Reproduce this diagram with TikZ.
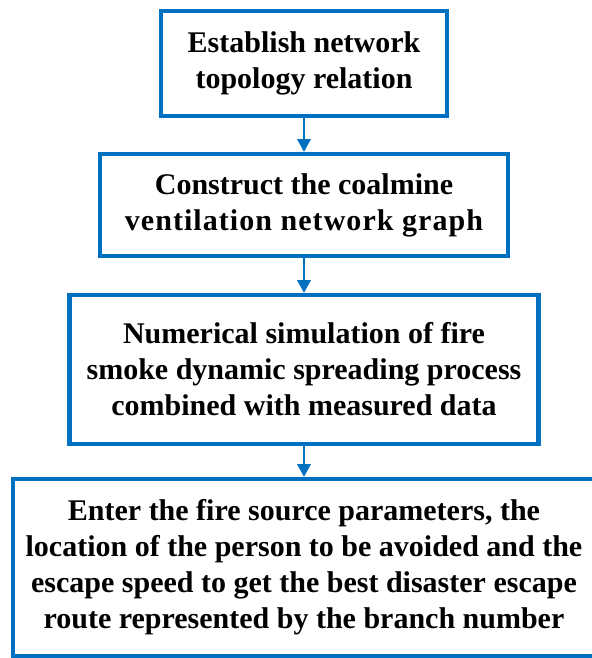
\documentclass[tikz,border=0pt]{standalone}
\usepackage{fontspec}
\setmainfont{Liberation Serif}
\usetikzlibrary{arrows.meta,positioning}
\definecolor{flowblue}{HTML}{0070C0}

\begin{document}
\begin{tikzpicture}[x=.75pt,y=-.75pt,font=\bfseries\fontsize{22.5}{27}\selectfont,
 box/.style={draw=flowblue,line width=3.2pt,align=center,inner sep=0pt},
 link/.style={-{Triangle[length=9.5pt,width=10pt]},flowblue,line width=1.5pt}]
 \useasboundingbox(0,0)rectangle(592,658);
 \node[box,minimum width=214.5pt,minimum height=78.75pt](topo)at(304,63.5){Establish network\\topology relation};
 \node[box,minimum width=306pt,minimum height=76.5pt](graph)at(304,205){Construct the coalmine\\{\addfontfeature{LetterSpace=3.5}ventilation network graph}};
 \node[box,minimum width=351.75pt,minimum height=111.75pt](sim)at(304,369.5){Numerical simulation of fire\\smoke dynamic spreading process\\combined with measured data};
 \node[box,minimum width=436.5pt,minimum height=132.75pt](route)at(304,567.5){Enter the fire source parameters, the\\location of the person to be avoided and the\\escape speed to get the best disaster escape\\route represented by the branch number};
 \draw[link](topo)--(graph);
 \draw[link](graph)--(sim);
 \draw[link](sim)--(route);
\end{tikzpicture}
\end{document}
